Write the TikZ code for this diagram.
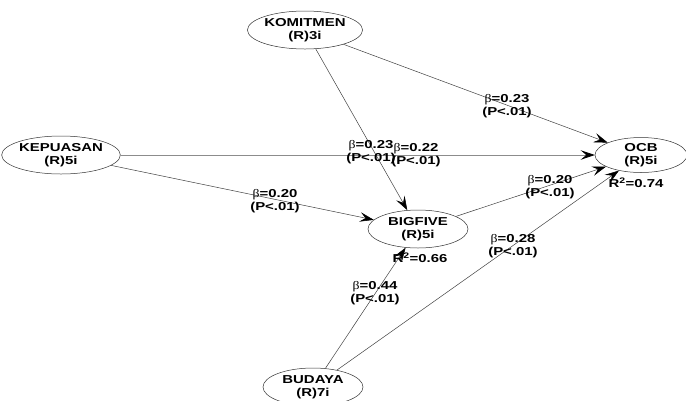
\documentclass[tikz,border=0pt]{standalone}
\usepackage{fontspec}
\setmainfont{Liberation Sans}[FakeStretch=1.3]
\newfontfamily\symfont{Liberation Serif}[FakeStretch=1.2]
\usetikzlibrary{arrows.meta,shapes.geometric}
\newcommand{\bt}{{\symfont\mdseries β}}
\begin{document}
\begin{tikzpicture}[x=1pt,y=-1pt,
  lv/.style={ellipse,draw=black!80,line width=0.5pt,minimum width=100pt,minimum height=38pt,inner sep=0pt,align=center,font=\fontsize{11.5}{12.5}\selectfont\bfseries},
  lbl/.style={align=center,font=\fontsize{11.5}{13}\selectfont\bfseries,inner sep=0pt},
  conn/.style={draw=black!75,line width=0.5pt,-{Stealth[length=14pt,width=9.5pt,inset=5.5pt,color=black]}}]
\useasboundingbox (0,0) rectangle (686,400);
\node[lv] (kom) at (305,30) {KOMITMEN\\(R)3i};
\node[lv] (kep) at (61,155) {KEPUASAN\\(R)5i};
\node[lv,minimum width=92pt,minimum height=35pt] (ocb) at (641,155) {OCB\\(R)5i};
\node[lv] (big) at (418,229) {BIGFIVE\\(R)5i};
\node[lv] (bud) at (313,387) {BUDAYA\\(R)7i};
\draw[conn] (kom) -- (big);
\draw[conn] (kom) -- (ocb);
\draw[conn,draw=black!45,line width=0.8pt] (kep) -- (ocb);
\draw[conn] (kep) -- (big);
\draw[conn] (big) -- (ocb);
\draw[conn] (bud) -- (big);
\draw[conn] (bud) -- (ocb);
\node[lbl] (l1) at (371,152) {\bt=0.23\\(P<.01)};
\node[lbl] (l2) at (416,155) {\bt=0.22\\(P<.01)};
\node[lbl] (l3) at (507,106) {\bt=0.23\\(P<.01)};
\node[lbl] (l4) at (275,201) {\bt=0.20\\(P<.01)};
\node[lbl] (l5) at (550,187) {\bt=0.20\\(P<.01)};
\node[lbl] (l6) at (375,293) {\bt=0.44\\(P<.01)};
\node[lbl] (l7) at (513,246) {\bt=0.28\\(P<.01)};
\node[lbl] (r1) at (636,183) {R\textsuperscript{2}=0.74};
\node[lbl] (r2) at (420,258) {R\textsuperscript{2}=0.66};
\end{tikzpicture}
\end{document}
